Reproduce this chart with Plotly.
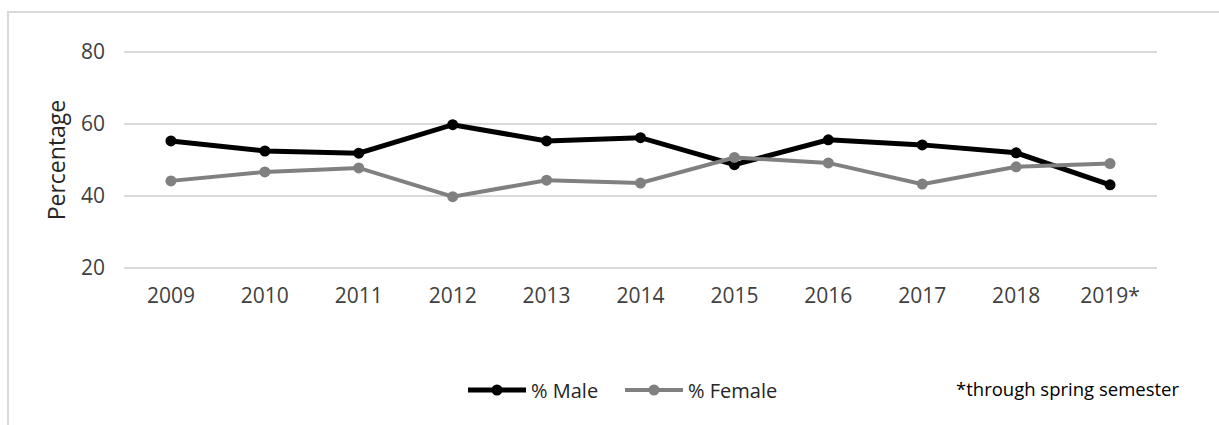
import plotly.graph_objects as go

years = ["2009", "2010", "2011", "2012", "2013", "2014", "2015", "2016", "2017", "2018", "2019*"]
male = [55.3, 52.5, 51.9, 59.8, 55.3, 56.2, 48.7, 55.6, 54.2, 52.0, 43.1]
female = [44.2, 46.7, 47.8, 39.8, 44.4, 43.6, 50.7, 49.2, 43.3, 48.1, 49.0]
y_ticks = [20, 40, 60, 80]

FONT = "Open Sans"

fig = go.Figure()
fig.add_trace(go.Scatter(
    x=years, y=male, name="% Male", mode="lines+markers", legend="legend",
    line=dict(color="#000000", width=5),
    marker=dict(color="#000000", size=11, symbol="circle"),
))
fig.add_trace(go.Scatter(
    x=years, y=female, name="% Female", mode="lines+markers", legend="legend2",
    line=dict(color="#808080", width=4),
    marker=dict(color="#808080", size=11, symbol="circle"),
))

legend_common = dict(orientation="h", xref="container", yref="container",
                     xanchor="left", y=1 - 390 / 425, yanchor="middle",
                     itemwidth=58,
                     font=dict(family=FONT, size=20, color="#262626"),
                     bgcolor="rgba(0,0,0,0)", itemsizing="trace")

fig.update_layout(
    width=1219, height=425,
    margin=dict(l=124, r=62, t=51, b=156, autoexpand=False),
    paper_bgcolor="white", plot_bgcolor="white",
    font=dict(family=FONT, size=21, color="#404040"),
    showlegend=True,
    legend=dict(x=463 / 1219, **legend_common),
    legend2=dict(x=620 / 1219, **legend_common),
    xaxis=dict(type="category", range=[-0.5, 10.5], showgrid=False, showline=False,
               zeroline=False, ticks="", ticklabelstandoff=12,
               tickfont=dict(family=FONT, size=21, color="#404040")),
    yaxis=dict(range=[19.72, 80.28], tickvals=y_ticks, showgrid=True, gridcolor="#d9d9d9",
               gridwidth=2, zeroline=False, showline=False, ticks="",
               ticklabelstandoff=18,
               tickfont=dict(family=FONT, size=21, color="#404040"),
               title=dict(text="Percentage", standoff=8,
                          font=dict(family=FONT, size=23, color="#262626"))),
    shapes=[dict(type="rect", xref="paper", yref="paper",
                 x0=(8 - 124) / 1033, x1=1.3, y0=-1.5, y1=(269 - 12) / 218,
                 line=dict(color="#d9d9d9", width=2), fillcolor="rgba(0,0,0,0)",
                 layer="below")],
    annotations=[dict(text="*through spring semester", xref="paper", yref="paper",
                      x=(1067 - 124) / 1033, y=(269 - 388) / 218, xanchor="center", yanchor="middle",
                      showarrow=False, font=dict(family=FONT, size=18.5, color="#000000"))],
)

fig.write_html("out.html")
